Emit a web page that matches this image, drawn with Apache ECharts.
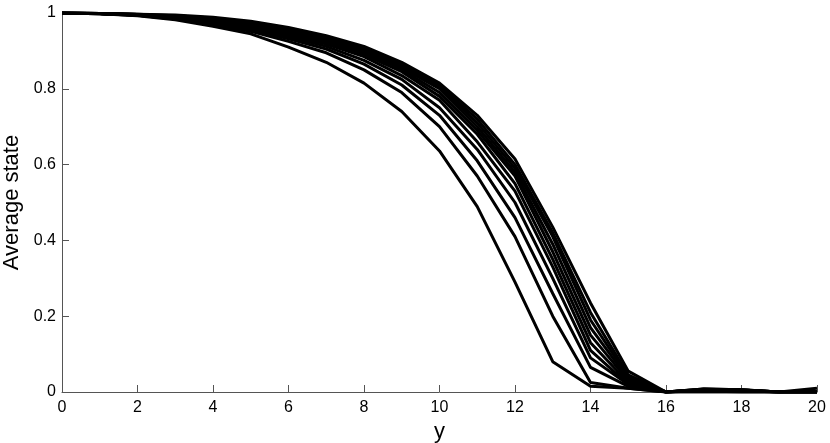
<!DOCTYPE html>
<html>
<head>
<meta charset="utf-8">
<title>Average state</title>
<script src="https://cdn.jsdelivr.net/npm/echarts@6/dist/echarts.min.js"></script>
<style>
  html, body { margin: 0; padding: 0; background: #fff; }
  #chart { width: 830px; height: 443px; }
</style>
</head>
<body>
<div id="chart"></div>
<script>
// y positions 0..20
const yPos = [0, 1, 2, 3, 4, 5, 6, 7, 8, 9, 10, 11, 12, 13, 14, 15, 16, 17, 18, 19, 20];
const xTicks = [0, 2, 4, 6, 8, 10, 12, 14, 16, 18, 20];

// one curve per run, lowest first
const curve1  = [1, 0.998, 0.993, 0.982, 0.965, 0.945, 0.910, 0.870, 0.815, 0.740, 0.636, 0.489, 0.290, 0.080, 0.015, 0.010, 0, 0, 0, 0, 0];
const curve2  = [1, 0.998, 0.994, 0.984, 0.970, 0.952, 0.925, 0.895, 0.850, 0.790, 0.700, 0.570, 0.410, 0.200, 0.025, 0.010, 0, 0, 0, 0, 0];
const curve3  = [1, 0.998, 0.994, 0.985, 0.973, 0.956, 0.932, 0.905, 0.865, 0.810, 0.730, 0.610, 0.460, 0.260, 0.065, 0.015, 0, 0.003, 0, 0, 0];
const curve4  = [1, 0.999, 0.995, 0.986, 0.975, 0.960, 0.937, 0.912, 0.875, 0.825, 0.750, 0.640, 0.500, 0.300, 0.090, 0.020, 0, 0.005, 0.003, 0, 0];
const curve5  = [1, 0.999, 0.995, 0.987, 0.977, 0.963, 0.942, 0.918, 0.885, 0.835, 0.770, 0.660, 0.530, 0.330, 0.110, 0.020, 0, 0.005, 0.005, 0, 0];
const curve6  = [1, 0.999, 0.995, 0.988, 0.979, 0.966, 0.946, 0.922, 0.890, 0.845, 0.780, 0.680, 0.550, 0.350, 0.130, 0.025, 0, 0.006, 0.005, 0, 0];
const curve7  = [1, 0.999, 0.996, 0.989, 0.981, 0.969, 0.950, 0.926, 0.895, 0.850, 0.790, 0.690, 0.570, 0.370, 0.150, 0.030, 0, 0.007, 0.005, 0, 0];
const curve8  = [1, 0.999, 0.996, 0.990, 0.983, 0.971, 0.953, 0.930, 0.900, 0.855, 0.800, 0.700, 0.580, 0.390, 0.170, 0.035, 0, 0.008, 0.006, 0, 0];
const curve9  = [1, 0.999, 0.996, 0.991, 0.985, 0.973, 0.956, 0.933, 0.905, 0.860, 0.805, 0.710, 0.590, 0.410, 0.190, 0.040, 0, 0.008, 0.006, 0, 0];
const curve10 = [1, 0.999, 0.997, 0.993, 0.987, 0.975, 0.959, 0.936, 0.908, 0.865, 0.810, 0.720, 0.600, 0.420, 0.210, 0.045, 0, 0.006, 0.004, 0, 0];
const curve11 = [1, 0.999, 0.997, 0.995, 0.989, 0.978, 0.962, 0.940, 0.912, 0.870, 0.815, 0.730, 0.615, 0.435, 0.235, 0.055, 0, 0.004, 0.003, 0, 0.010];

const curves = [curve1, curve2, curve3, curve4, curve5, curve6, curve7, curve8, curve9, curve10, curve11];

let chart = echarts.init(document.getElementById('chart'));
let option = {
  animation: false,
  backgroundColor: '#fff',
  textStyle: { fontFamily: 'Liberation Sans' },
  grid: { left: 62, right: 13, top: 13, bottom: 51, outerBoundsMode: 'none', containLabel: false },
  xAxis: {
    type: 'value',
    min: 0,
    max: 20,
    interval: 2,
    name: 'y',
    nameLocation: 'middle',
    nameGap: 26,
    nameTextStyle: { color: '#000', fontSize: 22 },
    axisLine: { lineStyle: { color: '#555', width: 1 } },
    axisTick: { inside: true, length: 7, lineStyle: { color: '#555' } },
    axisLabel: {
      color: '#000', fontSize: 16, margin: 8,
      formatter: function (v) { return xTicks.indexOf(v) >= 0 ? String(v) : ''; }
    },
    splitLine: { show: false }
  },
  yAxis: {
    type: 'value',
    min: 0,
    max: 1,
    interval: 0.2,
    name: 'Average state',
    nameLocation: 'middle',
    nameGap: 34,
    nameTextStyle: { color: '#000', fontSize: 22 },
    axisLine: { show: true, lineStyle: { color: '#555', width: 1 } },
    axisTick: { show: true, inside: true, length: 7, lineStyle: { color: '#555' } },
    axisLabel: { color: '#000', fontSize: 16, margin: 6 },
    splitLine: { show: false }
  },
  series: curves.map(function (c, i) {
    return {
      name: 'run ' + (i + 1),
      type: 'line',
      showSymbol: false,
      data: yPos.map(function (x, k) { return [x, c[k]]; }),
      lineStyle: { color: '#000', width: 3 },
      itemStyle: { color: '#000' }
    };
  })
};
chart.setOption(option);
</script>
</body>
</html>
